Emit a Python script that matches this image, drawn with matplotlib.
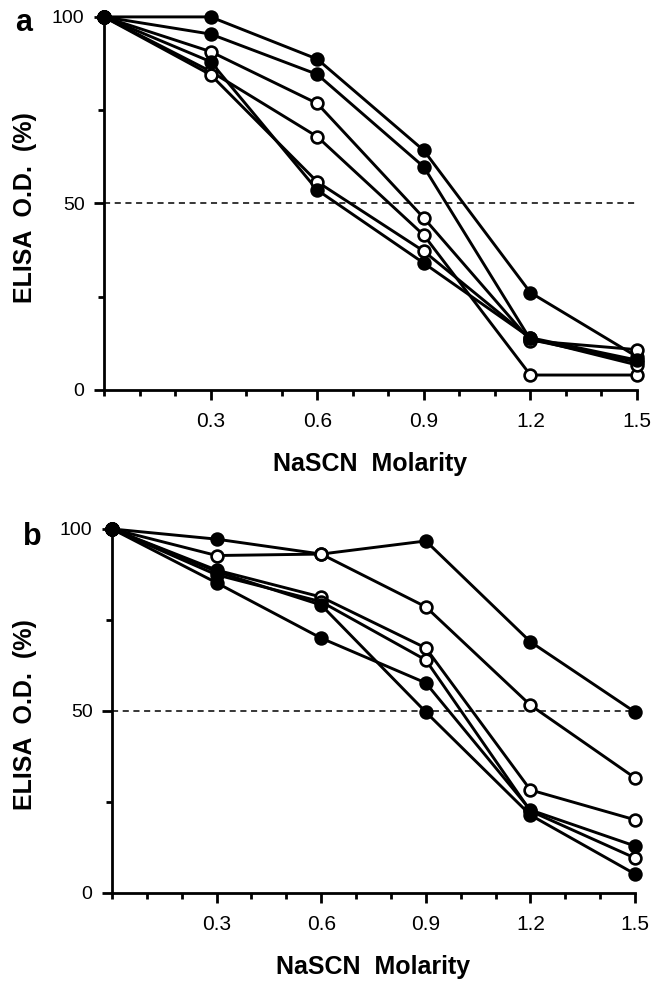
import matplotlib
matplotlib.use("Agg")
import matplotlib.pyplot as plt
from matplotlib.ticker import MultipleLocator

plt.rcParams['font.family'] = ['Liberation Sans', 'DejaVu Sans']

molarity = [0.0, 0.3, 0.6, 0.9, 1.2, 1.5]

# panel a (filled flag per series)
a_series = [
    [100, 100, 88.7, 64.2, 26.1, 8.9],
    [100, 95.4, 84.6, 59.8, 13.5, 7.5],
    [100, 90.7, 76.8, 46.1, 13.2, 10.8],
    [100, 85.4, 67.9, 41.5, 4.0, 4.0],
    [100, 84.5, 55.8, 37.2, 13.8, 6.7],
    [100, 88.0, 53.6, 34.0, 14.0, 8.0],
]
a_filled = [True, True, False, False, False, True]

# panel b
b_series = [
    [100, 97.2, 93.1, 96.7, 69.0, 49.7],
    [100, 92.7, 93.1, 78.6, 51.6, 31.6],
    [100, 88.7, 81.3, 67.3, 28.3, 20.1],
    [100, 87.4, 80.0, 64.0, 22.5, 9.6],
    [100, 88.3, 79.1, 49.7, 21.4, 5.2],
    [100, 85.2, 70.0, 57.7, 22.8, 12.9],
]
b_filled = [True, False, False, False, True, True]

xticks = [0.3, 0.6, 0.9, 1.2, 1.5]
yticks = [0, 50, 100]

fig = plt.figure(figsize=(6.65, 9.83), dpi=100)
ax_a = fig.add_axes([0.1564, 0.6033, 0.8015, 0.3795])
ax_b = fig.add_axes([0.1684, 0.0916, 0.7865, 0.3703])


def draw_panel(ax, series, filled, ylab_x):
    ax.axhline(50, color='black', lw=1.1, ls=(0, (4, 3)), zorder=1)
    for vals in series:
        ax.plot(molarity, vals, color='black', lw=2.1, zorder=2, clip_on=False)
    for vals, f in zip(series, filled):
        ax.plot(molarity, vals, ls='none', marker='o', ms=8.5,
                mfc='black' if f else 'white', mec='black', mew=1.9,
                zorder=3, clip_on=False)
    ax.set_xlim(0, 1.5)
    ax.set_ylim(0, 100)
    ax.set_xticks(xticks)
    ax.set_xticklabels([f"{t:.1f}" for t in xticks])
    ax.xaxis.set_minor_locator(MultipleLocator(0.1))
    ax.set_yticks(yticks)
    ax.yaxis.set_minor_locator(MultipleLocator(25))
    for s in ['top', 'right']:
        ax.spines[s].set_visible(False)
    for s in ['left', 'bottom']:
        ax.spines[s].set_linewidth(2.0)
    ax.tick_params(axis='x', which='major', direction='out', length=7, width=2,
                   labelsize=15, pad=9)
    ax.tick_params(axis='x', which='minor', direction='out', length=4, width=2)
    ax.tick_params(axis='y', which='major', direction='out', length=7, width=2,
                   labelsize=14, pad=7)
    ax.tick_params(axis='y', which='minor', direction='out', length=4, width=2)
    ax.set_xlabel("NaSCN  Molarity", fontsize=18, fontweight='bold', labelpad=15)
    ax.set_ylabel("ELISA  O.D.  (%)", fontsize=18, fontweight='bold')
    ax.yaxis.set_label_coords(ylab_x, 0.49)


draw_panel(ax_a, a_series, a_filled, -0.126)
draw_panel(ax_b, b_series, b_filled, -0.143)

fig.text(15 / 665, 1 - 31 / 983, 'a', fontsize=22, fontweight='bold',
         ha='left', va='baseline')
fig.text(23 / 665, 1 - 545 / 983, 'b', fontsize=22, fontweight='bold',
         ha='left', va='baseline')

fig.savefig("out.png", dpi=100)
